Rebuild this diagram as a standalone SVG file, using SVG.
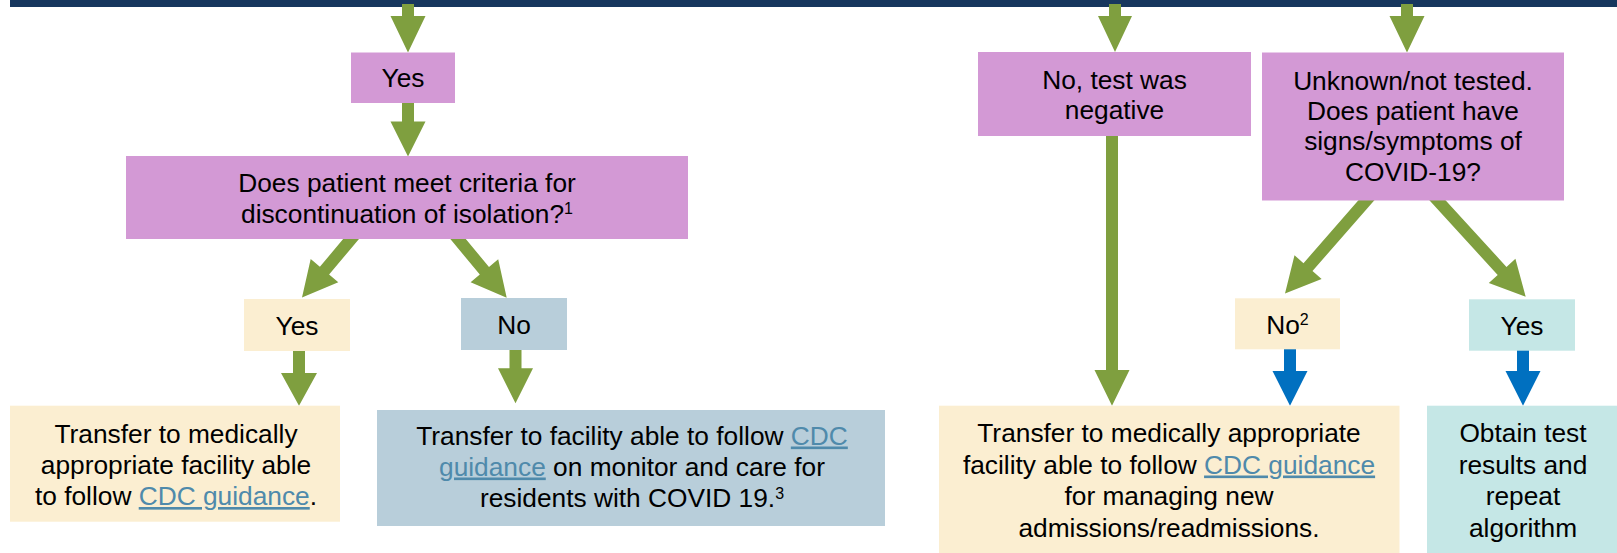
<svg xmlns="http://www.w3.org/2000/svg" width="1617" height="553" viewBox="0 0 1617 553">
<style>
.t{font-family:"Liberation Sans",Arial,sans-serif;font-size:26.3px;fill:#000;text-anchor:middle}
.sup{font-size:16px}
.lk{fill:#4F8AAB;text-decoration:underline}
.pur{fill:#D399D5}
.cre{fill:#FBEED1}
.blg{fill:#B8CEDA}
.tea{fill:#C5E7E6}
.g{fill:#7F9F3F}
.b{fill:#0070C0}
</style>
<rect x="10" y="0" width="1607" height="7" fill="#17375E"/>
<g id="connectors">
<polygon class="g" points="402,4 414,4 414,16 425.5,16 408,52.5 390.5,16 402,16"/>
<polygon class="g" points="402,100 414,100 414,121.5 425.5,121.5 408,156.5 390.5,121.5 402,121.5"/>
<polygon class="g" points="363.2,233.9 329.1,274.6 338.3,282.3 302,297.5 310.7,259.1 319.9,266.8 354,226.1"/>
<polygon class="g" points="455.2,226.2 489,267 498.2,259.3 506.7,297.7 470.6,282.3 479.8,274.6 446,233.8"/>
<polygon class="g" points="293,348 305,348 305,373 317,373 299,405.7 281,373 293,373"/>
<polygon class="g" points="509.5,347 521.5,347 521.5,368.3 533,368.3 515.5,403.3 498,368.3 509.5,368.3"/>
<polygon class="g" points="1109,4 1121,4 1121,16 1132,16 1115,52 1098,16 1109,16"/>
<polygon class="g" points="1401,4 1413,4 1413,16 1424.5,16 1407,52.5 1389.5,16 1401,16"/>
<polygon class="g" points="1106,132 1118,132 1118,370 1129.5,370 1112,405.7 1094.5,370 1106,370"/>
<polygon class="g" points="1378.1,195.9 1312.5,271 1321.6,278.9 1285,293.5 1294.5,255.3 1303.5,263.2 1369.1,188.1"/>
<polygon class="g" points="1434.3,188 1506.5,266.9 1515.4,258.8 1525.7,296.7 1488.8,283.1 1497.7,275 1425.5,196"/>
<polygon class="b" points="1284,346 1296,346 1296,371 1307.5,371 1290,405.7 1272.5,371 1284,371"/>
<polygon class="b" points="1517,347 1529,347 1529,371 1540.5,371 1523,405.7 1505.5,371 1517,371"/>
</g>
<g id="yes_top">
<rect class="pur" x="351" y="52.5" width="104" height="50.5"/>
<text class="t" x="403" y="87">Yes</text>
</g>
<g id="q_isolation">
<rect class="pur" x="126" y="156" width="562" height="83"/>
<text class="t" x="407" y="192">Does patient meet criteria for</text>
<text class="t" x="407" y="223">discontinuation of isolation?<tspan class="sup" dy="-9">1</tspan></text>
</g>
<g id="yes_left">
<rect class="cre" x="244" y="299" width="106" height="52"/>
<text class="t" x="297" y="334.5">Yes</text>
</g>
<g id="no_left">
<rect class="blg" x="461" y="298" width="106" height="52"/>
<text class="t" x="514" y="333.5">No</text>
</g>
<g id="transfer_left">
<rect class="cre" x="10" y="405.7" width="330" height="116"/>
<text class="t" x="176" y="443">Transfer to medically</text>
<text class="t" x="176" y="474">appropriate facility able</text>
<text class="t" x="176" y="505">to follow <tspan class="lk">CDC guidance</tspan>.</text>
</g>
<g id="transfer_covid">
<rect class="blg" x="377" y="410" width="508" height="116"/>
<text class="t" x="632" y="444.5">Transfer to facility able to follow <tspan class="lk">CDC</tspan></text>
<text class="t" x="632" y="475.5"><tspan class="lk">guidance</tspan> on monitor and care for</text>
<text class="t" x="632" y="506.5">residents with COVID 19.<tspan class="sup" dy="-8">3</tspan></text>
</g>
<g id="negative">
<rect class="pur" x="978" y="52" width="273" height="84"/>
<text class="t" x="1114.5" y="89.3">No, test was</text>
<text class="t" x="1114.5" y="119">negative</text>
</g>
<g id="unknown">
<rect class="pur" x="1262" y="52.5" width="302" height="148"/>
<text class="t" x="1413" y="89.5">Unknown/not tested.</text>
<text class="t" x="1413" y="120">Does patient have</text>
<text class="t" x="1413" y="150">signs/symptoms of</text>
<text class="t" x="1413" y="180.5">COVID-19?</text>
</g>
<g id="no2">
<rect class="cre" x="1235" y="298.3" width="105" height="51"/>
<text class="t" x="1287.5" y="334">No<tspan class="sup" dy="-9">2</tspan></text>
</g>
<g id="yes_right">
<rect class="tea" x="1469" y="299.3" width="106" height="51.4"/>
<text class="t" x="1522" y="334.5">Yes</text>
</g>
<g id="transfer_right">
<rect class="cre" x="939" y="405.7" width="460.5" height="150"/>
<text class="t" x="1169" y="442">Transfer to medically appropriate</text>
<text class="t" x="1169" y="473.5">facility able to follow <tspan class="lk">CDC guidance</tspan></text>
<text class="t" x="1169" y="505">for managing new</text>
<text class="t" x="1169" y="536.5">admissions/readmissions.</text>
</g>
<g id="obtain">
<rect class="tea" x="1427" y="405.7" width="192" height="150"/>
<text class="t" x="1523" y="442">Obtain test</text>
<text class="t" x="1523" y="473.5">results and</text>
<text class="t" x="1523" y="505">repeat</text>
<text class="t" x="1523" y="536.5">algorithm</text>
</g>
</svg>
